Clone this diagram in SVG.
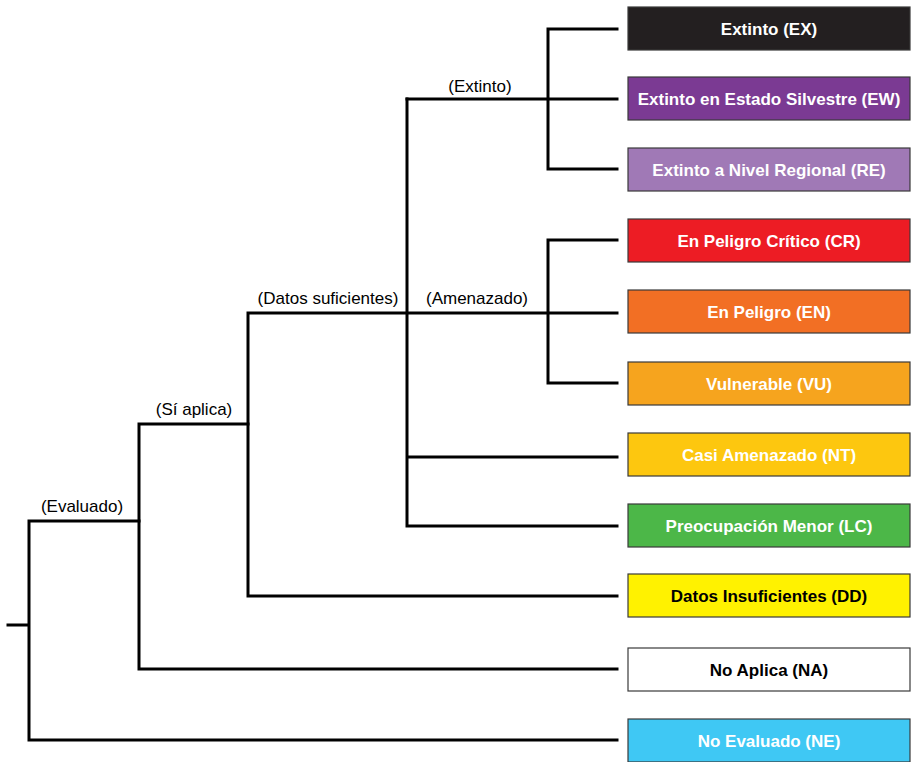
<svg xmlns="http://www.w3.org/2000/svg" width="914" height="762" viewBox="0 0 914 762">
<style>
.bg{fill:#ffffff}
.ln{fill:none;stroke:#000;stroke-width:3;stroke-linecap:square;stroke-linejoin:miter}
.box{stroke:#3a3a3a;stroke-width:1.2}
.bt{font-family:"Liberation Sans",Arial,sans-serif;font-weight:bold;font-size:17px;text-anchor:middle;fill:#fff}
.dk{fill:#000}
.lb{font-family:"Liberation Sans",Arial,sans-serif;font-size:17px;text-anchor:middle;fill:#000}
</style>
<rect class="bg" x="0" y="0" width="914" height="762"/>
<g id="connectors">
<path class="ln" d="M548,29 H617 M548,29 V169 H617 M407,99 H617"/>
<path class="ln" d="M548,240 H617 M548,240 V383 H617"/>
<path class="ln" d="M407,99 V526 H617 M407,457 H617"/>
<path class="ln" d="M248,596 V313 H617 M248,596 H617"/>
<path class="ln" d="M139,424 H248 M139,424 V669 H617"/>
<path class="ln" d="M29,521 H139 M29,521 V740 H617 M8,625 H29"/>
</g>
<g id="labels">
<text class="lb" x="480" y="92">(Extinto)</text>
<text class="lb" x="477" y="304">(Amenazado)</text>
<text class="lb" x="328" y="304">(Datos suficientes)</text>
<text class="lb" x="194" y="415">(Sí aplica)</text>
<text class="lb" x="82" y="512">(Evaluado)</text>
</g>
<g id="EX"><rect class="box" x="628" y="7" width="282" height="43" fill="#231f20"/><text class="bt" x="769" y="35">Extinto (EX)</text></g>
<g id="EW"><rect class="box" x="628" y="77" width="282" height="43" fill="#7b3a93"/><text class="bt" x="769" y="105">Extinto en Estado Silvestre (EW)</text></g>
<g id="RE"><rect class="box" x="628" y="148" width="282" height="43" fill="#a079b6"/><text class="bt" x="769" y="176">Extinto a Nivel Regional (RE)</text></g>
<g id="CR"><rect class="box" x="628" y="219" width="282" height="43" fill="#ed1c24"/><text class="bt" x="769" y="247">En Peligro Crítico (CR)</text></g>
<g id="EN"><rect class="box" x="628" y="290" width="282" height="43" fill="#f26f24"/><text class="bt" x="769" y="318">En Peligro (EN)</text></g>
<g id="VU"><rect class="box" x="628" y="362" width="282" height="43" fill="#f6a41e"/><text class="bt" x="769" y="390">Vulnerable (VU)</text></g>
<g id="NT"><rect class="box" x="628" y="433" width="282" height="43" fill="#fdc70f"/><text class="bt" x="769" y="461">Casi Amenazado (NT)</text></g>
<g id="LC"><rect class="box" x="628" y="504" width="282" height="43" fill="#4cb748"/><text class="bt" x="769" y="532">Preocupación Menor (LC)</text></g>
<g id="DD"><rect class="box" x="628" y="574" width="282" height="43" fill="#fff200"/><text class="bt dk" x="769" y="602">Datos Insuficientes (DD)</text></g>
<g id="NA"><rect class="box" x="628" y="648" width="282" height="43" fill="#ffffff"/><text class="bt dk" x="769" y="676">No Aplica (NA)</text></g>
<g id="NE"><rect class="box" x="628" y="719" width="282" height="43" fill="#3fc8f4"/><text class="bt" x="769" y="747">No Evaluado (NE)</text></g>
</svg>
